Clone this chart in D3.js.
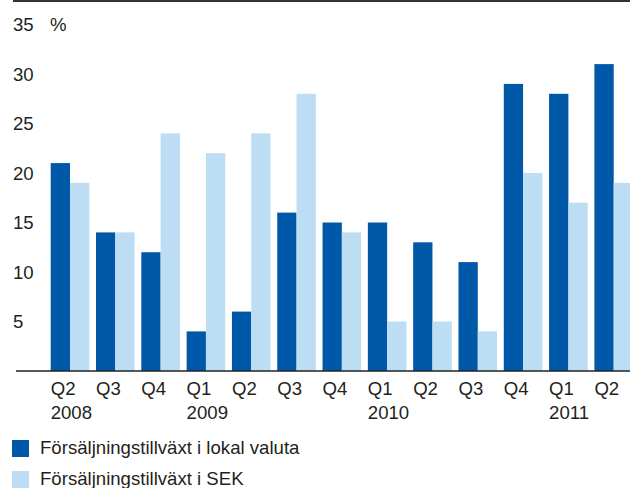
<!DOCTYPE html>
<html>
<head>
<meta charset="utf-8">
<script src="https://cdn.jsdelivr.net/npm/d3@7"></script>
<style>
  html, body { margin: 0; padding: 0; background: #fff; }
  svg { display: block; font-family: "Liberation Sans", Arial, sans-serif; }
</style>
</head>
<body>
<div id="chart"></div>
<script>
// Quarters and the year shown under some of them
const quarters = ["Q2", "Q3", "Q4", "Q1", "Q2", "Q3", "Q4", "Q1", "Q2", "Q3", "Q4", "Q1", "Q2"];
const years = ["2008", "", "", "2009", "", "", "", "2010", "", "", "", "2011", ""];

// Sales growth, percent
const localCurrency = [21, 14, 12, 4, 6, 16, 15, 15, 13, 11, 29, 28, 31];
const sek = [19, 14, 24, 22, 24, 28, 14, 5, 5, 4, 20, 17, 19];

const seriesNames = ["Försäljningstillväxt i lokal valuta", "Försäljningstillväxt i SEK"];
const seriesColors = ["#0058a8", "#bcddf3"];
const yTicks = [5, 10, 15, 20, 25, 30, 35];

const width = 630, height = 488;
const textColor = "#231f20";
const fontSize = "18.6px";

const svg = d3.select("#chart")
  .append("svg")
  .attr("width", width)
  .attr("height", height);

const data = quarters.map((q, i) => ({ i, q, year: years[i], values: [localCurrency[i], sek[i]] }));

const x0 = d3.scaleBand()
  .domain(data.map(d => d.i))
  .range([50.7, 633])
  .paddingInner(0.148)
  .paddingOuter(0);

const x1 = d3.scaleBand()
  .domain([0, 1])
  .range([0, x0.bandwidth()]);

const y = d3.scaleLinear()
  .domain([0, 35])
  .range([371, 24.5]);

// top rule
svg.append("line")
  .attr("x1", 13).attr("x2", width)
  .attr("y1", 1).attr("y2", 1)
  .attr("stroke", "#333")
  .attr("stroke-width", 2);

// y tick labels, left aligned
svg.append("g")
  .selectAll("text")
  .data(yTicks)
  .enter()
  .append("text")
  .attr("x", 13)
  .attr("y", d => y(d))
  .attr("dy", "0.35em")
  .attr("font-size", fontSize)
  .attr("fill", textColor)
  .text(d => d);

svg.append("text")
  .attr("x", 50)
  .attr("y", y(35))
  .attr("dy", "0.35em")
  .attr("font-size", fontSize)
  .attr("fill", textColor)
  .text("%");

// bars
const groups = svg.append("g")
  .selectAll("g")
  .data(data)
  .enter()
  .append("g")
  .attr("transform", d => `translate(${x0(d.i)},0)`);

groups.selectAll("rect")
  .data(d => d.values.map((v, k) => ({ k, v })))
  .enter()
  .append("rect")
  .attr("x", d => x1(d.k))
  .attr("width", x1.bandwidth())
  .attr("y", d => y(d.v))
  .attr("height", d => y(0) - y(d.v))
  .attr("fill", d => seriesColors[d.k]);

// baseline
svg.append("line")
  .attr("x1", 16).attr("x2", width)
  .attr("y1", y(0)).attr("y2", y(0))
  .attr("stroke", "#222")
  .attr("stroke-width", 1.5);

// x labels (left aligned to group)
svg.append("g")
  .selectAll("text")
  .data(data)
  .enter()
  .append("text")
  .attr("x", d => x0(d.i))
  .attr("y", 395)
  .attr("font-size", fontSize)
  .attr("fill", textColor)
  .text(d => d.q);

svg.append("g")
  .selectAll("text")
  .data(data.filter(d => d.year))
  .enter()
  .append("text")
  .attr("x", d => x0(d.i))
  .attr("y", 419)
  .attr("font-size", fontSize)
  .attr("fill", textColor)
  .text(d => d.year);

// legend
const legend = svg.append("g")
  .selectAll("g")
  .data(seriesNames)
  .enter()
  .append("g")
  .attr("transform", (d, i) => `translate(12,${440 + i * 31})`);

legend.append("rect")
  .attr("width", 17)
  .attr("height", 17)
  .attr("fill", (d, i) => seriesColors[i]);

legend.append("text")
  .attr("x", 28)
  .attr("y", 14)
  .attr("font-size", fontSize)
  .attr("fill", textColor)
  .text(d => d);
</script>
</body>
</html>
